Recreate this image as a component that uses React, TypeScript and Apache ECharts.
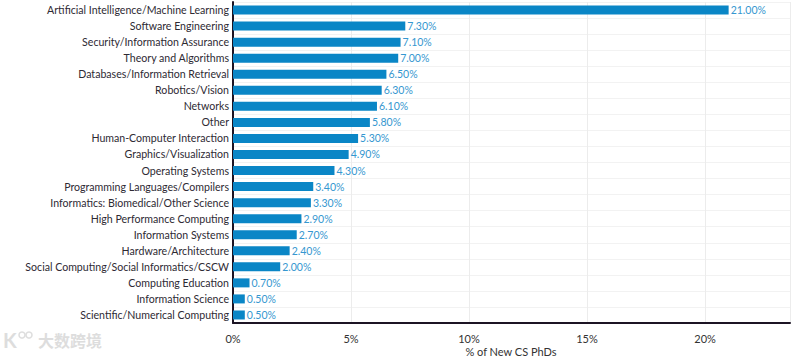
import React, { useEffect, useRef } from "react";
import * as echarts from "echarts";

const categories = [
  "Artificial Intelligence/Machine Learning",
  "Software Engineering",
  "Security/Information Assurance",
  "Theory and Algorithms",
  "Databases/Information Retrieval",
  "Robotics/Vision",
  "Networks",
  "Other",
  "Human-Computer Interaction",
  "Graphics/Visualization",
  "Operating Systems",
  "Programming Languages/Compilers",
  "Informatics: Biomedical/Other Science",
  "High Performance Computing",
  "Information Systems",
  "Hardware/Architecture",
  "Social Computing/Social Informatics/CSCW",
  "Computing Education",
  "Information Science",
  "Scientific/Numerical Computing",
];

const values = [21.0, 7.3, 7.1, 7.0, 6.5, 6.3, 6.1, 5.8, 5.3, 4.9, 4.3, 3.4, 3.3, 2.9, 2.7, 2.4, 2.0, 0.7, 0.5, 0.5];

const xTitle = "% of New CS PhDs";
const watermark = "大数跨境";

export default function App() {
  const ref = useRef<HTMLDivElement>(null);
  useEffect(() => {
    if (!ref.current) return;
    const chart = echarts.init(ref.current, null, { renderer: "svg" });
    const font = "Lato, 'Noto Sans', sans-serif";
    chart.setOption({
      animation: false,
      grid: { left: 233, right: 10, top: 2, bottom: 35, containLabel: false, outerBoundsMode: "none" },
      xAxis: {
        type: "value",
        min: 0,
        max: 23.6,
        interval: 5,
        axisLine: { show: true, lineStyle: { color: "#1c1424", width: 2 } },
        axisTick: { show: false },
        splitLine: { show: true, lineStyle: { color: "#ececec", width: 1 } },
        axisLabel: {
          color: "#333",
          fontSize: 11,
          fontFamily: font,
          margin: 10,
          showMaxLabel: false,
          formatter: (v: number) => `${v}%`,
        },
      },
      yAxis: {
        type: "category",
        inverse: true,
        data: categories,
        axisLine: { show: true, lineStyle: { color: "#1c1424", width: 2 } },
        axisTick: { show: false },
        splitLine: { show: true, lineStyle: { color: "#f2f2f2", width: 1 } },
        axisLabel: { color: "#2e2a33", fontSize: 10.6, fontFamily: font, margin: 4 },
      },
      series: [
        {
          type: "bar",
          data: values,
          barWidth: 9,
          itemStyle: { color: "#0a86c6" },
          label: {
            show: true,
            position: "right",
            distance: 2,
            color: "#3597d0",
            fontSize: 10.5,
            fontFamily: font,
            formatter: (p: any) => `${p.value.toFixed(2)}%`,
          },
        },
      ],
      graphic: [
        {
          type: "text",
          x: 511,
          y: 351,
          style: { text: xTitle, fill: "#333", fontSize: 11, fontFamily: font, align: "center", verticalAlign: "middle" },
        },
        {
          type: "text",
          left: 38,
          top: 332,
          style: { text: watermark, fill: "#dddddd", fontSize: 16, fontWeight: "bold", fontFamily: "'Noto Sans CJK SC', sans-serif" },
        },
        {
          type: "text",
          left: 3,
          top: 330,
          style: { text: "K", fill: "#dddddd", fontSize: 20, fontWeight: "bold", fontFamily: "Lato, sans-serif" },
        },
        {
          type: "circle",
          shape: { cx: 22, cy: 335, r: 3 },
          style: { fill: "none", stroke: "#dddddd", lineWidth: 1.5 },
        },
        {
          type: "circle",
          shape: { cx: 29, cy: 335, r: 3 },
          style: { fill: "none", stroke: "#dddddd", lineWidth: 1.5 },
        },
      ],
    });
    return () => chart.dispose();
  }, []);
  return <div ref={ref} style={{ width: 800, height: 358, position: "absolute", left: 0, top: 0 }} />;
}
